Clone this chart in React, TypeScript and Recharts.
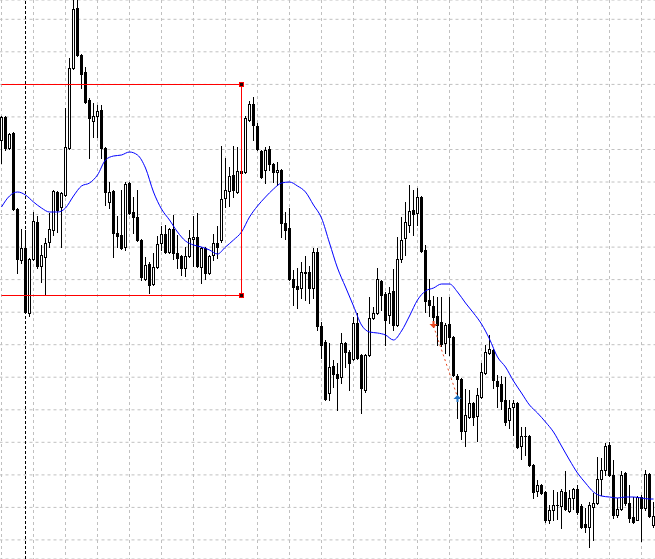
import {
  ComposedChart,
  Bar,
  Line,
  XAxis,
  YAxis,
  CartesianGrid,
  ReferenceLine,
  ReferenceDot,
} from 'recharts'

// one candle per bar (oldest first)
const opens = [
  1.348, 1.3503, 1.3472, 1.3487, 1.3411, 1.336, 1.3372, 1.3307, 1.3361, 1.3398,
  1.3354, 1.3363, 1.3378, 1.339, 1.3428, 1.3413, 1.3425, 1.3472, 1.3552, 1.3612,
  1.3565, 1.3548, 1.352, 1.3499, 1.3504, 1.351, 1.3472, 1.3418, 1.3429, 1.3387,
  1.3385, 1.3373, 1.3437, 1.3408, 1.3403, 1.338, 1.3341, 1.3356, 1.3336, 1.3353,
  1.3377, 1.3386, 1.3368, 1.3391, 1.3367, 1.3364, 1.3352, 1.3364, 1.3381, 1.3383,
  1.3353, 1.3372, 1.3347, 1.3365, 1.3377, 1.338, 1.3422, 1.3429, 1.3445, 1.3428,
  1.3449, 1.3448, 1.35, 1.3516, 1.3494, 1.3469, 1.345, 1.3471, 1.3456, 1.3448,
  1.345, 1.3397, 1.3392, 1.3341, 1.3334, 1.3332, 1.3348, 1.3348, 1.3332, 1.3368,
  1.3294, 1.3278, 1.3227, 1.3254, 1.3246, 1.3243, 1.3277, 1.3268, 1.3261, 1.3297,
  1.3265, 1.323, 1.3265, 1.3302, 1.3307, 1.3339, 1.3326, 1.3305, 1.3329, 1.3295,
  1.3361, 1.3382, 1.3395, 1.341, 1.3407, 1.3423, 1.337, 1.332, 1.3314, 1.3304,
  1.3298, 1.3277, 1.3296, 1.3283, 1.3244, 1.3241, 1.3189, 1.3203, 1.3217, 1.3204,
  1.3223, 1.3247, 1.3267, 1.327, 1.3239, 1.3236, 1.322, 1.32, 1.3213, 1.3217,
  1.3174, 1.3184, 1.3184, 1.3155, 1.3129, 1.3135, 1.3128, 1.31, 1.311, 1.3115,
  1.3114, 1.3128, 1.3109, 1.3122, 1.3131, 1.3114, 1.3096, 1.3093, 1.3113, 1.3117,
  1.3141, 1.315, 1.3175, 1.3145, 1.3105, 1.3111, 1.3147, 1.3117, 1.3103, 1.31,
  1.3123, 1.3112, 1.3146, 1.3095,
]

const highs = [
  1.3504, 1.3504, 1.3487, 1.3488, 1.3412, 1.3391, 1.339, 1.3362, 1.3408, 1.3404,
  1.3375, 1.3382, 1.3407, 1.343, 1.3429, 1.3428, 1.3512, 1.3562, 1.362, 1.362,
  1.3566, 1.3553, 1.3522, 1.3517, 1.3515, 1.3515, 1.3473, 1.3438, 1.343, 1.3404,
  1.343, 1.3438, 1.3438, 1.3423, 1.343, 1.3381, 1.3363, 1.3358, 1.3367, 1.3384,
  1.3394, 1.3395, 1.3392, 1.3405, 1.3385, 1.3365, 1.3373, 1.339, 1.3404, 1.3407,
  1.3373, 1.3373, 1.3365, 1.3386, 1.3394, 1.3474, 1.3462, 1.3453, 1.3474, 1.3473,
  1.345, 1.3504, 1.3519, 1.3523, 1.3497, 1.347, 1.3473, 1.3474, 1.3457, 1.3458,
  1.3451, 1.3408, 1.3412, 1.335, 1.3352, 1.3358, 1.3364, 1.3354, 1.3372, 1.3372,
  1.3298, 1.328, 1.3277, 1.326, 1.3257, 1.3287, 1.3278, 1.327, 1.3303, 1.3307,
  1.3266, 1.3266, 1.3323, 1.3313, 1.3352, 1.334, 1.3328, 1.3333, 1.3351, 1.3383,
  1.3403, 1.3418, 1.3435, 1.343, 1.3432, 1.3424, 1.3375, 1.3341, 1.3324, 1.3323,
  1.3323, 1.3297, 1.3323, 1.3284, 1.3246, 1.3242, 1.3231, 1.323, 1.3218, 1.3232,
  1.3257, 1.3275, 1.3285, 1.3271, 1.3245, 1.3244, 1.3243, 1.322, 1.322, 1.3218,
  1.3193, 1.3193, 1.3185, 1.3156, 1.314, 1.3136, 1.3129, 1.3115, 1.313, 1.3128,
  1.3131, 1.3149, 1.313, 1.3132, 1.3135, 1.3116, 1.3112, 1.3118, 1.3127, 1.3163,
  1.3162, 1.3177, 1.3178, 1.316, 1.3122, 1.3149, 1.3148, 1.3135, 1.3123, 1.3124,
  1.3125, 1.315, 1.3147, 1.3118,
]

const lows = [
  1.3457, 1.347, 1.3471, 1.341, 1.3347, 1.3357, 1.3307, 1.3304, 1.336, 1.3352,
  1.3338, 1.3325, 1.3373, 1.3385, 1.3388, 1.3373, 1.3424, 1.3471, 1.3551, 1.3564,
  1.3532, 1.3517, 1.3462, 1.3483, 1.3483, 1.3462, 1.3415, 1.3412, 1.3363, 1.3373,
  1.3371, 1.337, 1.3406, 1.3387, 1.3379, 1.334, 1.334, 1.3327, 1.3335, 1.3352,
  1.337, 1.3367, 1.3367, 1.3361, 1.3352, 1.3345, 1.3344, 1.3363, 1.3354, 1.3353,
  1.3337, 1.3341, 1.3346, 1.336, 1.3362, 1.3378, 1.3413, 1.3414, 1.3423, 1.3427,
  1.3445, 1.3447, 1.3499, 1.348, 1.347, 1.3442, 1.3437, 1.345, 1.3438, 1.3435,
  1.3383, 1.3381, 1.334, 1.3315, 1.3312, 1.3322, 1.332, 1.3317, 1.3322, 1.329,
  1.3262, 1.322, 1.322, 1.3233, 1.321, 1.3237, 1.3253, 1.323, 1.326, 1.3261,
  1.3207, 1.3228, 1.3264, 1.3301, 1.3306, 1.331, 1.3275, 1.3297, 1.329, 1.3294,
  1.3358, 1.3365, 1.3388, 1.3385, 1.3395, 1.3368, 1.3308, 1.3304, 1.3293, 1.3275,
  1.3274, 1.3267, 1.3265, 1.3244, 1.3202, 1.3181, 1.3174, 1.3202, 1.3195, 1.3179,
  1.3222, 1.3246, 1.3266, 1.3232, 1.3213, 1.3211, 1.3195, 1.3192, 1.3185, 1.3172,
  1.3161, 1.3165, 1.3154, 1.3122, 1.3124, 1.3126, 1.3098, 1.3097, 1.31, 1.3101,
  1.3092, 1.311, 1.3108, 1.3111, 1.3106, 1.3092, 1.3088, 1.3073, 1.308, 1.3116,
  1.3125, 1.3145, 1.3144, 1.3102, 1.3103, 1.311, 1.3115, 1.3098, 1.3097, 1.31,
  1.3079, 1.311, 1.3103, 1.3093,
]

const closes = [
  1.3503, 1.3472, 1.3486, 1.3411, 1.3361, 1.3372, 1.3308, 1.3361, 1.3399, 1.3354,
  1.3365, 1.3377, 1.3391, 1.3429, 1.341, 1.3427, 1.3473, 1.3552, 1.3611, 1.3565,
  1.3546, 1.3518, 1.3502, 1.3504, 1.3509, 1.3472, 1.3428, 1.3428, 1.3387, 1.3384,
  1.3372, 1.3436, 1.3407, 1.3403, 1.338, 1.3343, 1.3355, 1.3335, 1.3353, 1.3376,
  1.3386, 1.3368, 1.3391, 1.3367, 1.3362, 1.3352, 1.3364, 1.3382, 1.3383, 1.3354,
  1.3372, 1.3347, 1.3364, 1.3377, 1.3373, 1.3421, 1.343, 1.3444, 1.343, 1.3449,
  1.3447, 1.3502, 1.3516, 1.3495, 1.3471, 1.3443, 1.347, 1.3456, 1.3448, 1.345,
  1.3397, 1.339, 1.3341, 1.3333, 1.3331, 1.3348, 1.3347, 1.3332, 1.3368, 1.3294,
  1.3275, 1.3221, 1.3253, 1.3246, 1.3242, 1.3277, 1.3268, 1.3257, 1.3297, 1.3262,
  1.3232, 1.3265, 1.3302, 1.3307, 1.3341, 1.3325, 1.33, 1.3327, 1.3295, 1.3361,
  1.338, 1.3398, 1.3409, 1.3406, 1.3423, 1.3369, 1.3319, 1.3315, 1.3303, 1.3295,
  1.3276, 1.3295, 1.3283, 1.3245, 1.3241, 1.3189, 1.3205, 1.3217, 1.3203, 1.3225,
  1.3248, 1.3268, 1.3271, 1.324, 1.3234, 1.3219, 1.3198, 1.3212, 1.3217, 1.3173,
  1.3184, 1.3184, 1.3155, 1.3128, 1.3135, 1.3127, 1.31, 1.311, 1.3115, 1.3115,
  1.3129, 1.3111, 1.3122, 1.3131, 1.3108, 1.3093, 1.3093, 1.3115, 1.3117, 1.3141,
  1.315, 1.3174, 1.3145, 1.3105, 1.3111, 1.3145, 1.3117, 1.3102, 1.3098, 1.3123,
  1.3112, 1.3146, 1.3104, 1.3104,
]

// moving average, [bar index, value]
const maPoints: [number, number][] = [
  [0, 1.3413], [2, 1.3424], [4, 1.3428], [6, 1.3425], [8, 1.3418], [10, 1.3412],
  [12, 1.3408], [14, 1.3408], [16, 1.3412], [18, 1.3424], [20, 1.3434], [22, 1.3437],
  [24, 1.3445], [26, 1.346], [28, 1.3464], [30, 1.3465], [32, 1.3468], [34, 1.3465],
  [36, 1.3452], [38, 1.3428], [40, 1.3411], [42, 1.34], [44, 1.3388], [46, 1.3379],
  [48, 1.3375], [50, 1.3373], [52, 1.337], [54, 1.3366], [56, 1.3373], [58, 1.338],
  [60, 1.3388], [62, 1.3403], [64, 1.3414], [66, 1.3423], [68, 1.3431], [70, 1.3437],
  [72, 1.3438], [74, 1.3434], [76, 1.3428], [78, 1.3415], [80, 1.3402], [82, 1.3377],
  [84, 1.3352], [86, 1.3333], [88, 1.3314], [90, 1.3295], [92, 1.3288], [94, 1.3287],
  [96, 1.3285], [98, 1.328], [100, 1.3289], [102, 1.3304], [104, 1.332], [106, 1.3329],
  [108, 1.3332], [110, 1.3336], [112, 1.3336], [114, 1.3328], [116, 1.3317], [118, 1.3307],
  [120, 1.3296], [122, 1.3281], [124, 1.3263], [126, 1.3253], [128, 1.3239], [130, 1.3227],
  [132, 1.3215], [134, 1.3207], [136, 1.3198], [138, 1.3188], [140, 1.3174], [142, 1.316],
  [144, 1.3147], [146, 1.3137], [148, 1.3128], [150, 1.3124], [152, 1.3123], [154, 1.3122],
  [156, 1.3123], [158, 1.3123], [160, 1.3122], [162, 1.3121], [163, 1.3121],
]

const xTicks = [0, 8, 16, 24, 32, 40, 48, 56, 64, 72, 80, 88, 96, 104, 112, 120, 128, 136, 144, 152, 160]
const yTicks = [
  1.30801, 1.31126, 1.31451, 1.31777, 1.32102, 1.32428, 1.32753, 1.33078, 1.33404,
  1.33729, 1.34055, 1.3438, 1.34705, 1.35031, 1.35356, 1.35682, 1.36007,
]
const priceDomain = [1.3061, 1.362]

const boxTop = 1.35355
const boxBottom = 1.33245
const boxEnd = 60
const separatorBar = 6
const sellMark = { bar: 108, price: 1.3294 }
const buyMark = { bar: 114, price: 1.3223 }

const maByBar = new Map(maPoints)
const rows = opens.map((open, i) => ({
  i,
  open,
  high: highs[i],
  low: lows[i],
  close: closes[i],
  range: [lows[i], highs[i]],
  ma: maByBar.get(i) ?? null,
}))

function Candle(props: any) {
  const { x, y, width, height, payload } = props
  if (!payload) return null
  const top = Math.min(y, y + height)
  const bottom = Math.max(y, y + height)
  const span = payload.high - payload.low || 1
  const toY = (v: number) => top + ((payload.high - v) / span) * (bottom - top)
  const cx = Math.floor(x + width / 2) + 0.5
  const yo = Math.round(toY(payload.open))
  const yc = Math.round(toY(payload.close))
  const bTop = Math.min(yo, yc)
  const bBot = Math.max(yo, yc)
  const bull = payload.close > payload.open
  return (
    <g>
      <line x1={cx} x2={cx} y1={Math.round(top)} y2={Math.round(bottom) + 1} stroke="#000" />
      {bBot - bTop < 1 ? (
        <line x1={cx - 1.5} x2={cx + 1.5} y1={bTop + 0.5} y2={bTop + 0.5} stroke="#000" />
      ) : (
        <rect x={cx - 1} y={bTop + 0.5} width={2} height={bBot - bTop} fill={bull ? '#fff' : '#000'} stroke="#000" />
      )}
    </g>
  )
}

const Corner = (p: any) => (
  <rect x={Math.floor(p.cx) - 1.5} y={Math.floor(p.cy) - 1.5} width={4} height={4} fill="#200" stroke="#f00" />
)

const DownArrow = (p: any) => (
  <path
    d={`M${p.cx - 1},${p.cy - 5} h2 v3 h3 l-4,4 l-4,-4 h3 z`}
    fill="#e8471d"
  />
)

const UpArrow = (p: any) => (
  <path
    d={`M${p.cx - 1},${p.cy + 5} h2 v-3 h3 l-4,-4 l-4,4 h3 z`}
    fill="#1f6fc0"
  />
)

const NoDot = () => <g />

export default function App() {
  return (
    <div style={{ position: 'absolute', left: 0, top: 0, width: 655, height: 559, overflow: 'hidden', background: '#fff' }}>
      <ComposedChart
        width={656}
        height={559}
        data={rows}
        barCategoryGap={0}
        margin={{ top: 0, right: 0.5, bottom: 0, left: -0.5 }}
      >
        <CartesianGrid stroke="#c0c0c0" strokeDasharray="3 3" />
        <XAxis dataKey="i" type="category" hide ticks={xTicks} interval={0} />
        <YAxis type="number" hide domain={priceDomain} ticks={yTicks} allowDataOverflow />
        <ReferenceLine x={separatorBar} stroke="#000" strokeDasharray="3 2" />
        <Bar dataKey="range" barSize={4} shape={<Candle />} isAnimationActive={false} />
        <Line
          dataKey="ma"
          type="monotone"
          stroke="#0000ff"
          strokeWidth={1}
          dot={NoDot}
          activeDot={false}
          connectNulls
          isAnimationActive={false}
        />
        <ReferenceLine segment={[{ x: 0, y: boxTop }, { x: boxEnd, y: boxTop }]} stroke="#ff0000" />
        <ReferenceLine segment={[{ x: 0, y: boxBottom }, { x: boxEnd, y: boxBottom }]} stroke="#ff0000" />
        <ReferenceLine segment={[{ x: boxEnd, y: boxTop }, { x: boxEnd, y: boxBottom }]} stroke="#ff0000" />
        <ReferenceDot x={boxEnd} y={boxTop} shape={Corner} />
        <ReferenceDot x={boxEnd} y={boxBottom} shape={Corner} />
        <ReferenceLine
          segment={[{ x: sellMark.bar, y: sellMark.price }, { x: buyMark.bar, y: buyMark.price }]}
          stroke="#e8471d"
          strokeDasharray="2 3"
        />
        <ReferenceDot x={sellMark.bar} y={sellMark.price} shape={DownArrow} />
        <ReferenceDot x={buyMark.bar} y={buyMark.price} shape={UpArrow} />
      </ComposedChart>
    </div>
  )
}
